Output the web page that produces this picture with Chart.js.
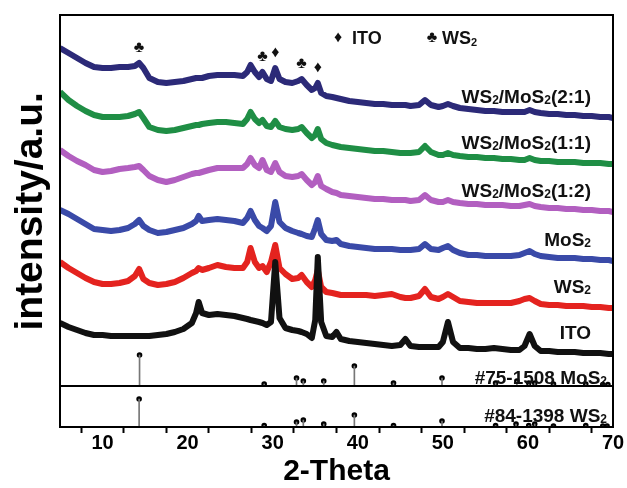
<!DOCTYPE html>
<html>
<head>
<meta charset="utf-8">
<script src="https://cdn.jsdelivr.net/npm/chart.js@4.4.1/dist/chart.umd.min.js"></script>
<style>
  html, body { margin: 0; padding: 0; background: #fff; }
</style>
</head>
<body>
<canvas id="xrd" width="627" height="488"></canvas>
<script>
// 2-theta grid (deg)
const theta = [5, 6, 7, 8, 9, 10, 11, 12, 13, 13.8, 14.3, 14.8, 15.5, 16.5, 17.5, 18.5, 19.5, 20.5,
  21, 21.3, 21.7, 22.5, 23.5, 24.5, 25.5, 26.5, 27, 27.4, 27.9, 28.4, 28.8, 29.3, 29.8, 30.3, 30.8,
  31.5, 32.3, 33, 33.4, 34, 34.6, 35, 35.3, 35.7, 36.3, 37, 37.5, 38, 39, 40, 41, 42, 43, 44, 45,
  45.6, 46.2, 47.2, 47.9, 48.6, 49.5, 50, 50.6, 51.2, 52, 53, 54, 55, 56, 57, 58, 59, 59.6, 60.2,
  60.8, 61.5, 62.5, 63.5, 64.5, 65.5, 66.5, 67.5, 68.5, 69.5, 70];

// stacked intensities (a.u.)
const ito = [63,59,56,53,51,51,50,50,50,50, 50,50,50,51,52,54,57,63,73,84, 73,71,72,71,70,68,67,66,65,64,
  63,61,64,124,68,58,56,55,54,52, 48,66,129,64,50,49,54,47,45,44, 43,42,41,40,41,47,40,39,39,39,
  39,44,64,44,38,38,37,37,38,37, 36,36,40,52,40,35,35,34,34,34, 33,33,33,32,32];
const ws2 = [124,118,113,108,104,102,102,103,105,110, 117,107,103,101,102,104,108,113,115,118,
  116,118,121,119,118,118,124,138,124,118, 120,114,124,141,118,112,107,108,111,104,
  99,106,116,99,94,93,92,91,91,91, 91,90,91,92,89,88,88,90,97,89, 87,89,92,89,85,84,83,83,83,83,
  83,85,87,88,85,82,81,81,80,80, 80,79,79,78,78];
const mos2 = [176,172,167,162,157,156,155,156,158,162, 166,160,156,153,154,156,158,162,165,170,
  165,166,167,166,165,163,168,175,166,160, 158,155,160,184,164,158,155,153,152,150,
  149,158,166,152,146,145,146,142,140,139, 138,137,137,137,136,136,136,137,142,137,
  136,138,140,136,133,131,131,130,130,130, 130,131,133,135,132,130,129,128,128,128, 127,127,126,126,125];
const mix12 = [236,230,225,221,216,214,215,217,218,219, 220,216,210,206,204,206,209,212,213,213,
  214,216,218,218,218,218,222,228,221,218, 226,216,214,223,214,210,209,210,212,206,
  201,204,210,200,197,194,193,191,190,189, 188,187,187,186,186,186,185,186,191,186,
  184,184,186,184,183,182,182,181,181,181, 180,180,181,182,180,179,178,178,177,177, 176,176,175,175,174];
const mix11 = [294,286,280,275,271,269,269,269,270,272, 274,268,259,256,255,256,258,260,261,261,
  262,263,264,264,263,262,267,274,267,263, 266,260,259,265,259,257,256,257,259,253,
  248,251,257,247,243,241,240,239,238,237, 236,235,235,234,233,233,233,234,240,234,
  231,231,233,231,230,229,229,228,228,227, 227,226,226,228,226,225,225,224,224,224, 223,223,223,222,222];
const mix21 = [338,333,328,323,319,318,318,319,319,320, 323,318,308,304,303,304,305,307,308,308,
  308,310,311,311,311,310,314,321,314,309, 314,307,305,318,307,304,303,305,307,301,
  296,298,303,293,290,289,288,287,285,284, 283,282,282,281,281,281,280,281,286,281,
  279,280,282,280,278,277,276,275,275,274, 274,274,274,276,274,273,272,272,271,271, 270,270,269,269,268];

const sampleNames = ['ITO', 'WS2', 'MoS2', 'WS2/MoS2(1:2)', 'WS2/MoS2(1:1)', 'WS2/MoS2(2:1)'];
const sampleColors = ['#111111', '#e4231f', '#3a4aa8', '#b25fc0', '#1f8e45', '#2c2a78'];

// reference cards
const mos2RefTheta = [14.35, 29.0, 32.8, 33.6, 36.0, 39.6, 44.2, 49.9, 56.2, 58.7, 60.1, 60.8, 63.0, 66.8, 68.8, 69.4];
const mos2RefI = [31, 2, 8, 5, 5, 20, 3, 8, 3, 5, 3, 3, 2, 2, 1.5, 1.5];
const ws2RefTheta = [14.3, 29.0, 32.8, 33.6, 36.0, 39.6, 44.2, 49.9, 56.2, 58.6, 60.1, 60.8, 63.0, 66.8, 68.8, 69.3];
const ws2RefI = [28, 1.5, 5, 7, 3, 12, 1.5, 6, 1.5, 3, 1.5, 3, 1, 1.5, 1, 1];
const refNames = ['#75-1508 MoS2', '#84-1398 WS2'];

// peak markers on the 2:1 trace
const peakTheta = [14.3, 28.8, 30.3, 33.4, 35.3];
const peakMark = ['\u2663', '\u2663', '\u2666', '\u2663', '\u2666'];

const FONT = '"Liberation Sans", Arial, sans-serif';
Chart.defaults.font.family = FONT;
Chart.defaults.color = '#000';

const series = [ito, ws2, mos2, mix12, mix11, mix21];
const pts = (xs, ys) => xs.map((t, i) => ({ x: t, y: ys[i] }));

// text with "S2" subscripts
function drawRich(ctx, txt, x, yMid, size, align) {
  const parts = [];
  let buf = '';
  for (let i = 0; i < txt.length; i++) {
    if (txt[i] === '2' && txt[i - 1] === 'S') {
      if (buf) parts.push([buf, false]);
      parts.push(['2', true]);
      buf = '';
    } else buf += txt[i];
  }
  if (buf) parts.push([buf, false]);
  const big = 'bold ' + size + 'px ' + FONT;
  const small = 'bold ' + Math.round(size * 0.62) + 'px ' + FONT;
  let w = 0;
  parts.forEach(p => { ctx.font = p[1] ? small : big; w += ctx.measureText(p[0]).width; });
  let cx = align === 'right' ? x - w : x;
  const base = yMid + size * 0.36;
  ctx.textAlign = 'left';
  ctx.textBaseline = 'alphabetic';
  parts.forEach(p => {
    ctx.font = p[1] ? small : big;
    ctx.fillText(p[0], cx, base + (p[1] ? size * 0.06 : 0));
    cx += ctx.measureText(p[0]).width;
  });
}

const decor = {
  id: 'decor',
  afterDatasetsDraw(chart) {
    const { ctx, chartArea: a, scales } = chart;
    const xs = scales.x, ys = scales.y, ys2 = scales.y2;
    ctx.save();
    // frame and panel divider
    ctx.strokeStyle = '#000';
    ctx.lineWidth = 2;
    ctx.strokeRect(a.left, a.top, a.right - a.left, a.bottom - a.top);
    ctx.beginPath();
    ctx.moveTo(a.left, ys.bottom);
    ctx.lineTo(a.right, ys.bottom);
    ctx.stroke();

    ctx.fillStyle = '#111';
    // sample labels above the right end of each trace
    series.forEach((s, i) => {
      const yEnd = ys.getPixelForValue(s[s.length - 1]);
      drawRich(ctx, sampleNames[i], a.right - 22, yEnd - 22, 19, 'right');
    });
    drawRich(ctx, refNames[0], a.right - 6, ys.bottom - 9, 19, 'right');
    drawRich(ctx, refNames[1], a.right - 6, ys2.bottom - 12, 19, 'right');

    // peak symbols
    ctx.font = 'bold 16px ' + FONT;
    ctx.textAlign = 'center';
    ctx.textBaseline = 'middle';
    peakTheta.forEach((t, k) => {
      const idx = theta.indexOf(t);
      ctx.fillText(peakMark[k], xs.getPixelForValue(t), ys.getPixelForValue(mix21[idx]) - 15);
    });

    // symbol key
    const ky = a.top + 23;
    ctx.fillText('\u2666', a.left + 278, ky);
    ctx.fillText('\u2663', a.left + 372, ky);
    drawRich(ctx, 'ITO', a.left + 292, ky, 18, 'left');
    drawRich(ctx, 'WS2', a.left + 382, ky, 18, 'left');
    ctx.restore();
  }
};

const datasets = series.map((s, i) => ({
  type: 'line',
  label: sampleNames[i],
  data: pts(theta, s),
  borderColor: sampleColors[i],
  borderWidth: 6,
  borderJoinStyle: 'round',
  pointRadius: 0,
  tension: 0,
  yAxisID: 'y'
}));

datasets.push(
  { type: 'bar', data: pts(mos2RefTheta, mos2RefI), yAxisID: 'y', backgroundColor: '#777', barThickness: 1, grouped: false },
  { type: 'line', data: pts(mos2RefTheta, mos2RefI), yAxisID: 'y', showLine: false, pointRadius: 2.8, pointBackgroundColor: '#000', pointBorderWidth: 0 },
  { type: 'bar', data: pts(ws2RefTheta, ws2RefI), yAxisID: 'y2', backgroundColor: '#777', barThickness: 1, grouped: false },
  { type: 'line', data: pts(ws2RefTheta, ws2RefI), yAxisID: 'y2', showLine: false, pointRadius: 2.8, pointBackgroundColor: '#000', pointBorderWidth: 0 }
);

new Chart(document.getElementById('xrd'), {
  type: 'line',
  data: { datasets },
  options: {
    responsive: false,
    animation: false,
    layout: { padding: { left: 4, top: 15, right: 14, bottom: 0 } },
    plugins: { legend: { display: false }, tooltip: { enabled: false } },
    scales: {
      x: {
        type: 'linear',
        min: 5,
        max: 70,
        offset: false,
        afterFit: (s) => { s.height = 61; },
        ticks: {
          stepSize: 5,
          padding: -2,
          maxRotation: 0,
          autoSkip: false,
          font: { size: 20, weight: 'bold' },
          callback: (v) => (v % 10 === 0 ? v : '')
        },
        grid: { drawOnChartArea: false, drawTicks: true, tickLength: 6, color: '#000', tickWidth: 2 },
        border: { color: '#000', width: 2 },
        title: { display: true, text: '2-Theta', font: { size: 30, weight: 'bold' }, padding: { top: 0, bottom: -2 } }
      },
      // bottom reference panel is listed first so the layout stacks it below
      y2: {
        type: 'linear',
        position: 'left',
        stack: 'panels',
        stackWeight: 41,
        min: 0,
        max: 41,
        offset: false,
        ticks: { display: false },
        grid: { display: false },
        border: { color: '#000', width: 2 }
      },
      y: {
        type: 'linear',
        position: 'left',
        stack: 'panels',
        stackWeight: 371,
        min: 0,
        max: 371,
        afterFit: (s) => { s.width = 56; },
        ticks: { display: false },
        grid: { display: false },
        border: { color: '#000', width: 2 },
        title: { display: true, text: 'intensity/a.u.  ', font: { size: 39, weight: 'bold' }, padding: { top: 4, bottom: 4 } }
      }
    }
  },
  plugins: [decor]
});
</script>
</body>
</html>
